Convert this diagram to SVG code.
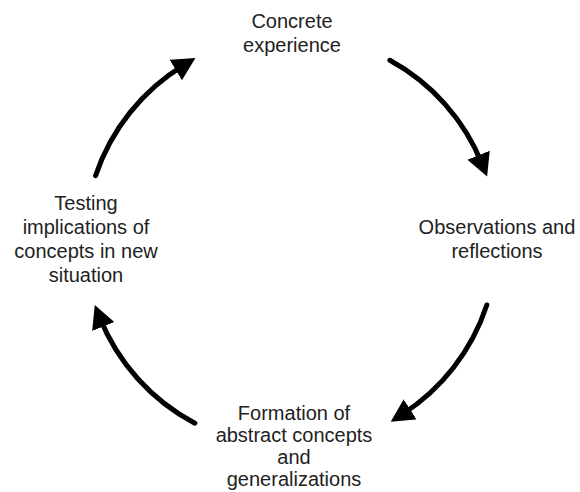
<svg xmlns="http://www.w3.org/2000/svg" width="580" height="492" viewBox="0 0 580 492">
<style>
.lbl{font-family:"Liberation Sans","Open Sans",Arial,sans-serif;font-size:20px;fill:#222;text-anchor:middle}
.arc{fill:none;stroke:#000;stroke-width:5;stroke-linecap:round;marker-end:url(#ah)}
</style>
<defs>
<marker id="ah" markerUnits="userSpaceOnUse" markerWidth="24" markerHeight="24" viewBox="0 0 24 24" refX="10" refY="12" orient="auto">
<path d="M0,0 L23,12 L0,24 z" fill="#000"/>
</marker>
</defs>
<rect width="580" height="492" fill="#fff"/>
<g id="connectors">
<path class="arc" d="M389.9,60.3 A206,206 0 0 1 482.3,164.5"/>
<path class="arc" d="M486.8,305 A206,206 0 0 1 401.7,414.7"/>
<path class="arc" d="M194.9,423.2 A206,206 0 0 1 99.6,317.2"/>
<path class="arc" d="M95.6,175.6 A206,206 0 0 1 184.3,64.8"/>
</g>
<g id="concrete-experience">
<text class="lbl" x="292" y="28">Concrete</text>
<text class="lbl" x="292" y="52">experience</text>
</g>
<g id="observations-reflections">
<text class="lbl" x="497" y="234">Observations and</text>
<text class="lbl" x="497" y="258">reflections</text>
</g>
<g id="formation-abstract-concepts">
<text class="lbl" x="294" y="420">Formation of</text>
<text class="lbl" x="294" y="442">abstract concepts</text>
<text class="lbl" x="294" y="464">and</text>
<text class="lbl" x="294" y="486">generalizations</text>
</g>
<g id="testing-implications">
<text class="lbl" x="86" y="210">Testing</text>
<text class="lbl" x="86" y="234">implications of</text>
<text class="lbl" x="86" y="258">concepts in new</text>
<text class="lbl" x="86" y="282">situation</text>
</g>
</svg>
